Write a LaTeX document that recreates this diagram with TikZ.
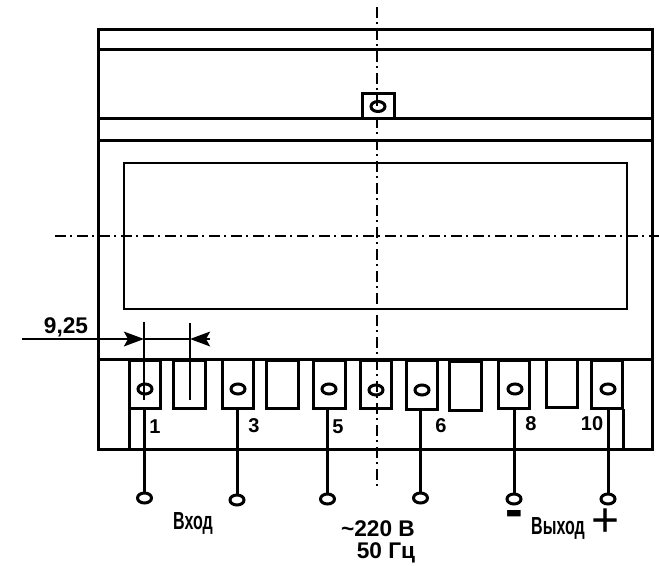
\documentclass[tikz,border=0pt]{standalone}
\usepackage{fontspec}
\setmainfont{Liberation Sans}
\usetikzlibrary{arrows.meta,shapes}

\begin{document}
\begin{tikzpicture}[-, x=0.75pt, y=-0.75pt, line width=2.25pt,
main node/.style={rectangle, draw, minimum width=23.5pt, minimum height=36.5pt, inner sep=0pt, outer sep=0pt},
ring node/.style={ellipse, draw, minimum width=10.5pt, minimum height=7.5pt, inner sep=0pt, outer sep=0pt},
num node/.style={font=\bfseries\fontsize{15pt}{15pt}\selectfont, inner sep=0pt},
text node/.style={font=\bfseries\fontsize{17pt}{18pt}\selectfont, inner sep=0pt},
narrow node/.style={font=\bfseries\fontsize{18.5pt}{19pt}\selectfont, inner sep=0pt, xscale=0.65, transform shape},
axis/.style={line width=1.5pt, dash pattern=on 8.5pt off 3pt on 1.5pt off 3.5pt},
tip/.style={-{Stealth[length=15pt, width=11pt, inset=3pt]}}]
\useasboundingbox (0,0) rectangle (659,565);
\draw (98,29) rectangle (652,449);
\draw (98,49.5) -- (652,49.5);
\draw (98,118.5) -- (652,118.5);
\draw (98,140.5) -- (652,140.5);
\draw (98,359.5) -- (652,359.5);
\draw[line width=1.9pt] (124,163) rectangle (627,309);
\draw (129,409) -- (129,449);
\draw (623,409) -- (623,449);
\draw[axis] (377,7) -- (377,488);
\draw[axis] (55,236) -- (659,236);
\node[rectangle, draw, minimum width=24pt, minimum height=19pt, inner sep=0pt] (0) at (378,106) {};
\node[ring node] (r0) at (378,106.5) {};
\node[main node] (1) at (145,384.5) {};
\node[main node] (2) at (189.5,384.5) {};
\node[main node] (3) at (238,384) {};
\node[main node] (4) at (282.5,384.5) {};
\node[main node] (5) at (329.5,384.5) {};
\node[main node] (6) at (376,384.5) {};
\node[main node] (7) at (422,385) {};
\node[main node] (8) at (465.5,386) {};
\node[main node] (9) at (514,384.5) {};
\node[main node] (10) at (562,383.5) {};
\node[main node] (11) at (607,384.5) {};
\node[ring node] (r1) at (145,389) {};
\node[ring node] (r3) at (238,389) {};
\node[ring node] (r5) at (329,389) {};
\node[ring node] (r6) at (376,390) {};
\node[ring node] (r7) at (422,390) {};
\node[ring node] (r9) at (515,389) {};
\node[ring node] (r11) at (608,389) {};
\node[ring node] (a) at (144.5,498) {};
\node[ring node] (b) at (237,500) {};
\node[ring node] (c) at (327.5,499) {};
\node[ring node] (d) at (420.5,498) {};
\node[ring node] (e) at (514,499) {};
\node[ring node] (f) at (608,499) {};
\coordinate (w1) at (144.5,409);
\coordinate (w3) at (237,409);
\coordinate (w5) at (327.5,409);
\coordinate (w7) at (420.5,409);
\coordinate (w9) at (514,409);
\coordinate (w11) at (608,409);
\path
(w1) edge (a)
(w3) edge (b)
(w5) edge (c)
(w7) edge (d)
(w9) edge (e)
(w11) edge (f);
\coordinate (p) at (22,339);
\coordinate (q) at (144,339);
\coordinate (s) at (190,339);
\coordinate (u) at (210,339);
\coordinate (q1) at (144,322);
\coordinate (q2) at (144,400);
\coordinate (s1) at (190,323);
\coordinate (s2) at (190,400);
\path[line width=1.8pt]
(q1) edge (q2)
(s1) edge (s2)
(q) edge (s)
(p) edge[tip] (q)
(u) edge[tip] (s);
\node[text node] (dim) at (66,327) {9,25};
\node[num node] (n1) at (155,427) {1};
\node[num node] (n3) at (254,426) {3};
\node[num node] (n5) at (338,427) {5};
\node[num node] (n6) at (441,426) {6};
\node[num node] (n8) at (531,424) {8};
\node[num node] (n10) at (592,424) {10};
\node[narrow node] (in) at (193,523) {Вход};
\node[narrow node] (out) at (558,528) {Выход};
\node[text node] (v) at (378,529) {\char`\~220 В};
\node[text node] (hz) at (386,553) {50 Гц};
\node[font=\bfseries\fontsize{40pt}{41pt}\selectfont, inner sep=0pt] (minus) at (514,519) {-};
\node[font=\fontsize{36pt}{37pt}\selectfont, inner sep=0pt] (plus) at (606,523) {+};
\end{tikzpicture}
\end{document}
